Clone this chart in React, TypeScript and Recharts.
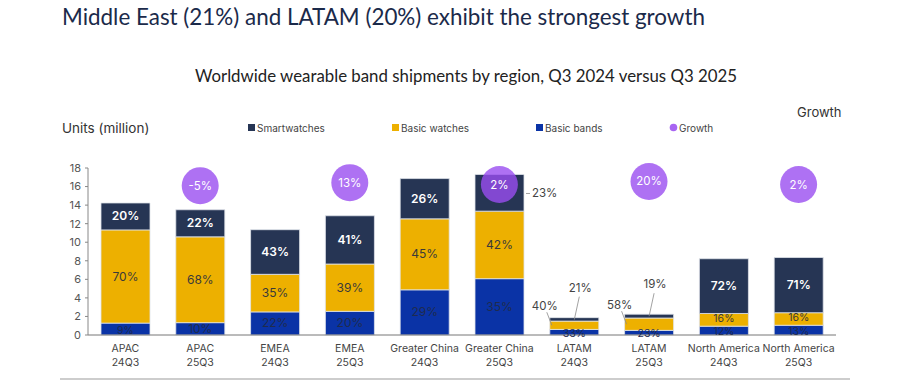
import React from "react";
import { ComposedChart, Bar, Scatter, XAxis, YAxis, LabelList } from "recharts";

// values, million units
const regions = ["APAC", "APAC", "EMEA", "EMEA", "Greater China", "Greater China", "LATAM", "LATAM", "North America", "North America"];
const quarters = ["24Q3", "25Q3", "24Q3", "25Q3", "24Q3", "25Q3", "24Q3", "25Q3", "24Q3", "25Q3"];
const basicBands = [1.28, 1.33, 2.49, 2.55, 4.87, 6.07, 0.6, 0.5, 0.95, 1.05];
const basicWatches = [10.05, 9.25, 4.05, 5.1, 7.65, 7.28, 0.9, 1.33, 1.37, 1.35];
const smartwatches = [2.9, 2.92, 4.81, 5.2, 4.34, 3.95, 0.37, 0.41, 5.9, 5.95];
// share labels (%)
const bandPct = [9, 10, 22, 20, 29, 35, 33, 23, 12, 13];
const watchPct = [70, 68, 35, 39, 45, 42, 40, 58, 16, 16];
const smartPct = [20, 22, 43, 41, 26, 23, 21, 19, 72, 71];
// YoY growth (%), only on the 25Q3 bars
const growth = [null, -5, null, 13, null, 2, null, 20, null, 2];
const yTicks = [0, 2, 4, 6, 8, 10, 12, 14, 16, 18];

const COLORS = {
  smart: "#263554",
  watches: "#EDB000",
  bands: "#0A33A6",
  growth: "#9a4df0",
};

const FONT = "Inter, 'Noto Sans', sans-serif";

const data = regions.map((r, i) => ({
  key: `${r} ${quarters[i]}`,
  bands: basicBands[i],
  watches: basicWatches[i],
  smart: smartwatches[i],
  growth: growth[i],
}));

// short stacks get their labels pulled outside
const isShort = (i: number) => basicBands[i] + basicWatches[i] + smartwatches[i] < 3;

const XTick = (props: any) => {
  const { x, y, payload } = props;
  const i = payload.index;
  return (
    <text x={x} y={y} textAnchor="middle" fontSize={10.5} fill="#444" fontFamily={FONT}>
      <tspan x={x} dy={17}>{regions[i]}</tspan>
      <tspan x={x} dy={14}>{quarters[i]}</tspan>
    </text>
  );
};

const renderSmartLabel = (props: any) => {
  const { x, y, width, height, index } = props;
  const txt = `${smartPct[index]}%`;
  const cx = x + width / 2;
  if (isShort(index)) {
    // thin slice: label above with a leader
    return (
      <g>
        <line x1={cx} y1={y + 2} x2={cx + 5} y2={y - 21} stroke="#8a8a8a" strokeWidth={0.8} />
        <text x={cx + 6} y={y - 26} textAnchor="middle" fontSize={11.5} fill="#444" fontFamily={FONT}>{txt}</text>
      </g>
    );
  }
  if (growth[index] != null && y < 200) {
    // growth bubble covers it, move to the right
    return (
      <g>
        <line x1={x + width + 2} y1={y + 19} x2={x + width + 6} y2={y + 19} stroke="#8a8a8a" strokeWidth={0.8} />
        <text x={x + width + 8} y={y + 23} fontSize={11.5} fill="#444" fontFamily={FONT}>{txt}</text>
      </g>
    );
  }
  return (
    <text x={cx} y={y + height / 2 + 4} textAnchor="middle" fontSize={12} fontWeight={600} fill="#fff" fontFamily={FONT}>{txt}</text>
  );
};

const renderWatchLabel = (props: any) => {
  const { x, y, width, height, index } = props;
  const txt = `${watchPct[index]}%`;
  const mid = y + height / 2;
  if (isShort(index)) {
    const ly = mid - 19;
    return (
      <g>
        <line x1={x - 3} y1={ly + 6} x2={x + 2} y2={mid} stroke="#8a8a8a" strokeWidth={0.8} />
        <text x={x - 5} y={ly + 4} textAnchor="middle" fontSize={11.5} fill="#444" fontFamily={FONT}>{txt}</text>
      </g>
    );
  }
  const thin = height < 16;
  return (
    <text x={x + width / 2} y={mid + (thin ? 2.5 : 4)} textAnchor="middle" fontSize={thin ? 10.5 : 12} fill="#3a3a3a" fontFamily={FONT}>{txt}</text>
  );
};

const renderBandLabel = (props: any) => {
  const { x, y, width, height, index } = props;
  const thin = height < 12;
  return (
    <text x={x + width / 2} y={y + height / 2 + (thin ? 4.5 : 4)} textAnchor="middle" fontSize={thin ? 10.5 : 12} fill="#1f2b4e" fontFamily={FONT}>
      {`${bandPct[index]}%`}
    </text>
  );
};

const GrowthBubble = (props: any) => {
  const { cx, cy, payload } = props;
  if (payload == null || payload.growth == null || !Number.isFinite(cy)) return <g />;
  return (
    <g>
      <circle cx={cx} cy={cy} r={18.5} fill={COLORS.growth} fillOpacity={0.8} />
      <text x={cx} y={cy + 4} textAnchor="middle" fontSize={11.5} fill="#fff" fontFamily={FONT}>
        {`${payload.growth}%`}
      </text>
    </g>
  );
};

const legendItems = [
  { name: "Smartwatches", color: COLORS.smart, x: 248, shape: "square" },
  { name: "Basic watches", color: COLORS.watches, x: 392, shape: "square" },
  { name: "Basic bands", color: COLORS.bands, x: 536, shape: "square" },
  { name: "Growth", color: "#a865f2", x: 670, shape: "circle" },
];

export default function App() {
  return (
    <div style={{ position: "absolute", left: 0, top: 0, width: 900, height: 385, background: "#fff" }}>
      <div style={{ position: "absolute", left: 0, top: 0 }}>
        <ComposedChart
          width={900}
          height={385}
          data={data}
          margin={{ top: 168, right: 64, bottom: 10, left: 58 }}
          barSize={49}
        >
          <XAxis
            dataKey="key"
            tick={<XTick />}
            tickLine={false}
            tickSize={0}
            tickMargin={0}
            height={40}
            interval={0}
            axisLine={{ stroke: "#777" }}
          />
          <YAxis
            domain={[0, 18]}
            ticks={yTicks}
            width={30}
            tickSize={3}
            tickMargin={4}
            tick={{ fontSize: 11, fill: "#555", fontFamily: FONT }}
            tickLine={{ stroke: "#888" }}
            axisLine={{ stroke: "#888" }}
          />
          <YAxis yAxisId="growth" orientation="right" domain={[-890, 100]} hide />

          <Bar dataKey="bands" stackId="s" fill={COLORS.bands} stroke="#dfe3ea" strokeWidth={0.8} isAnimationActive={false}>
            <LabelList dataKey="bands" content={renderBandLabel} />
          </Bar>
          <Bar dataKey="watches" stackId="s" fill={COLORS.watches} stroke="#dfe3ea" strokeWidth={0.8} isAnimationActive={false}>
            <LabelList dataKey="watches" content={renderWatchLabel} />
          </Bar>
          <Bar dataKey="smart" stackId="s" fill={COLORS.smart} stroke="#dfe3ea" strokeWidth={0.8} isAnimationActive={false}>
            <LabelList dataKey="smart" content={renderSmartLabel} />
          </Bar>
          <Scatter dataKey="growth" yAxisId="growth" shape={<GrowthBubble />} isAnimationActive={false} />
        </ComposedChart>
      </div>

      <svg width={900} height={385} style={{ position: "absolute", left: 0, top: 0, pointerEvents: "none" }}>
        <text x={62} y={25} fontSize={23} fill="#1b2a4a" fontFamily="Lato, 'Open Sans', sans-serif" textLength={643} lengthAdjust="spacingAndGlyphs">
          Middle East (21%) and LATAM (20%) exhibit the strongest growth
        </text>
        <text x={195} y={82} fontSize={16.5} fill="#222" fontFamily="Lato, 'Open Sans', sans-serif" textLength={542} lengthAdjust="spacingAndGlyphs">
          Worldwide wearable band shipments by region, Q3 2024 versus Q3 2025
        </text>
        <text x={797} y={117} fontSize={13} fill="#333" fontFamily={FONT}>Growth</text>
        <text x={62} y={133} fontSize={13.5} fill="#333" fontFamily={FONT}>Units (million)</text>
        {legendItems.map((it) => (
          <g key={it.name}>
            {it.shape === "square" ? (
              <rect x={it.x} y={124} width={7} height={7} fill={it.color} />
            ) : (
              <circle cx={it.x + 3.5} cy={127.5} r={3.8} fill={it.color} />
            )}
            <text x={it.x + 9} y={131.5} fontSize={10} fill="#444" fontFamily={FONT}>{it.name}</text>
          </g>
        ))}
        <line x1={60} y1={379} x2={850} y2={379} stroke="#bdbdbd" strokeWidth={1.5} />
      </svg>
    </div>
  );
}
